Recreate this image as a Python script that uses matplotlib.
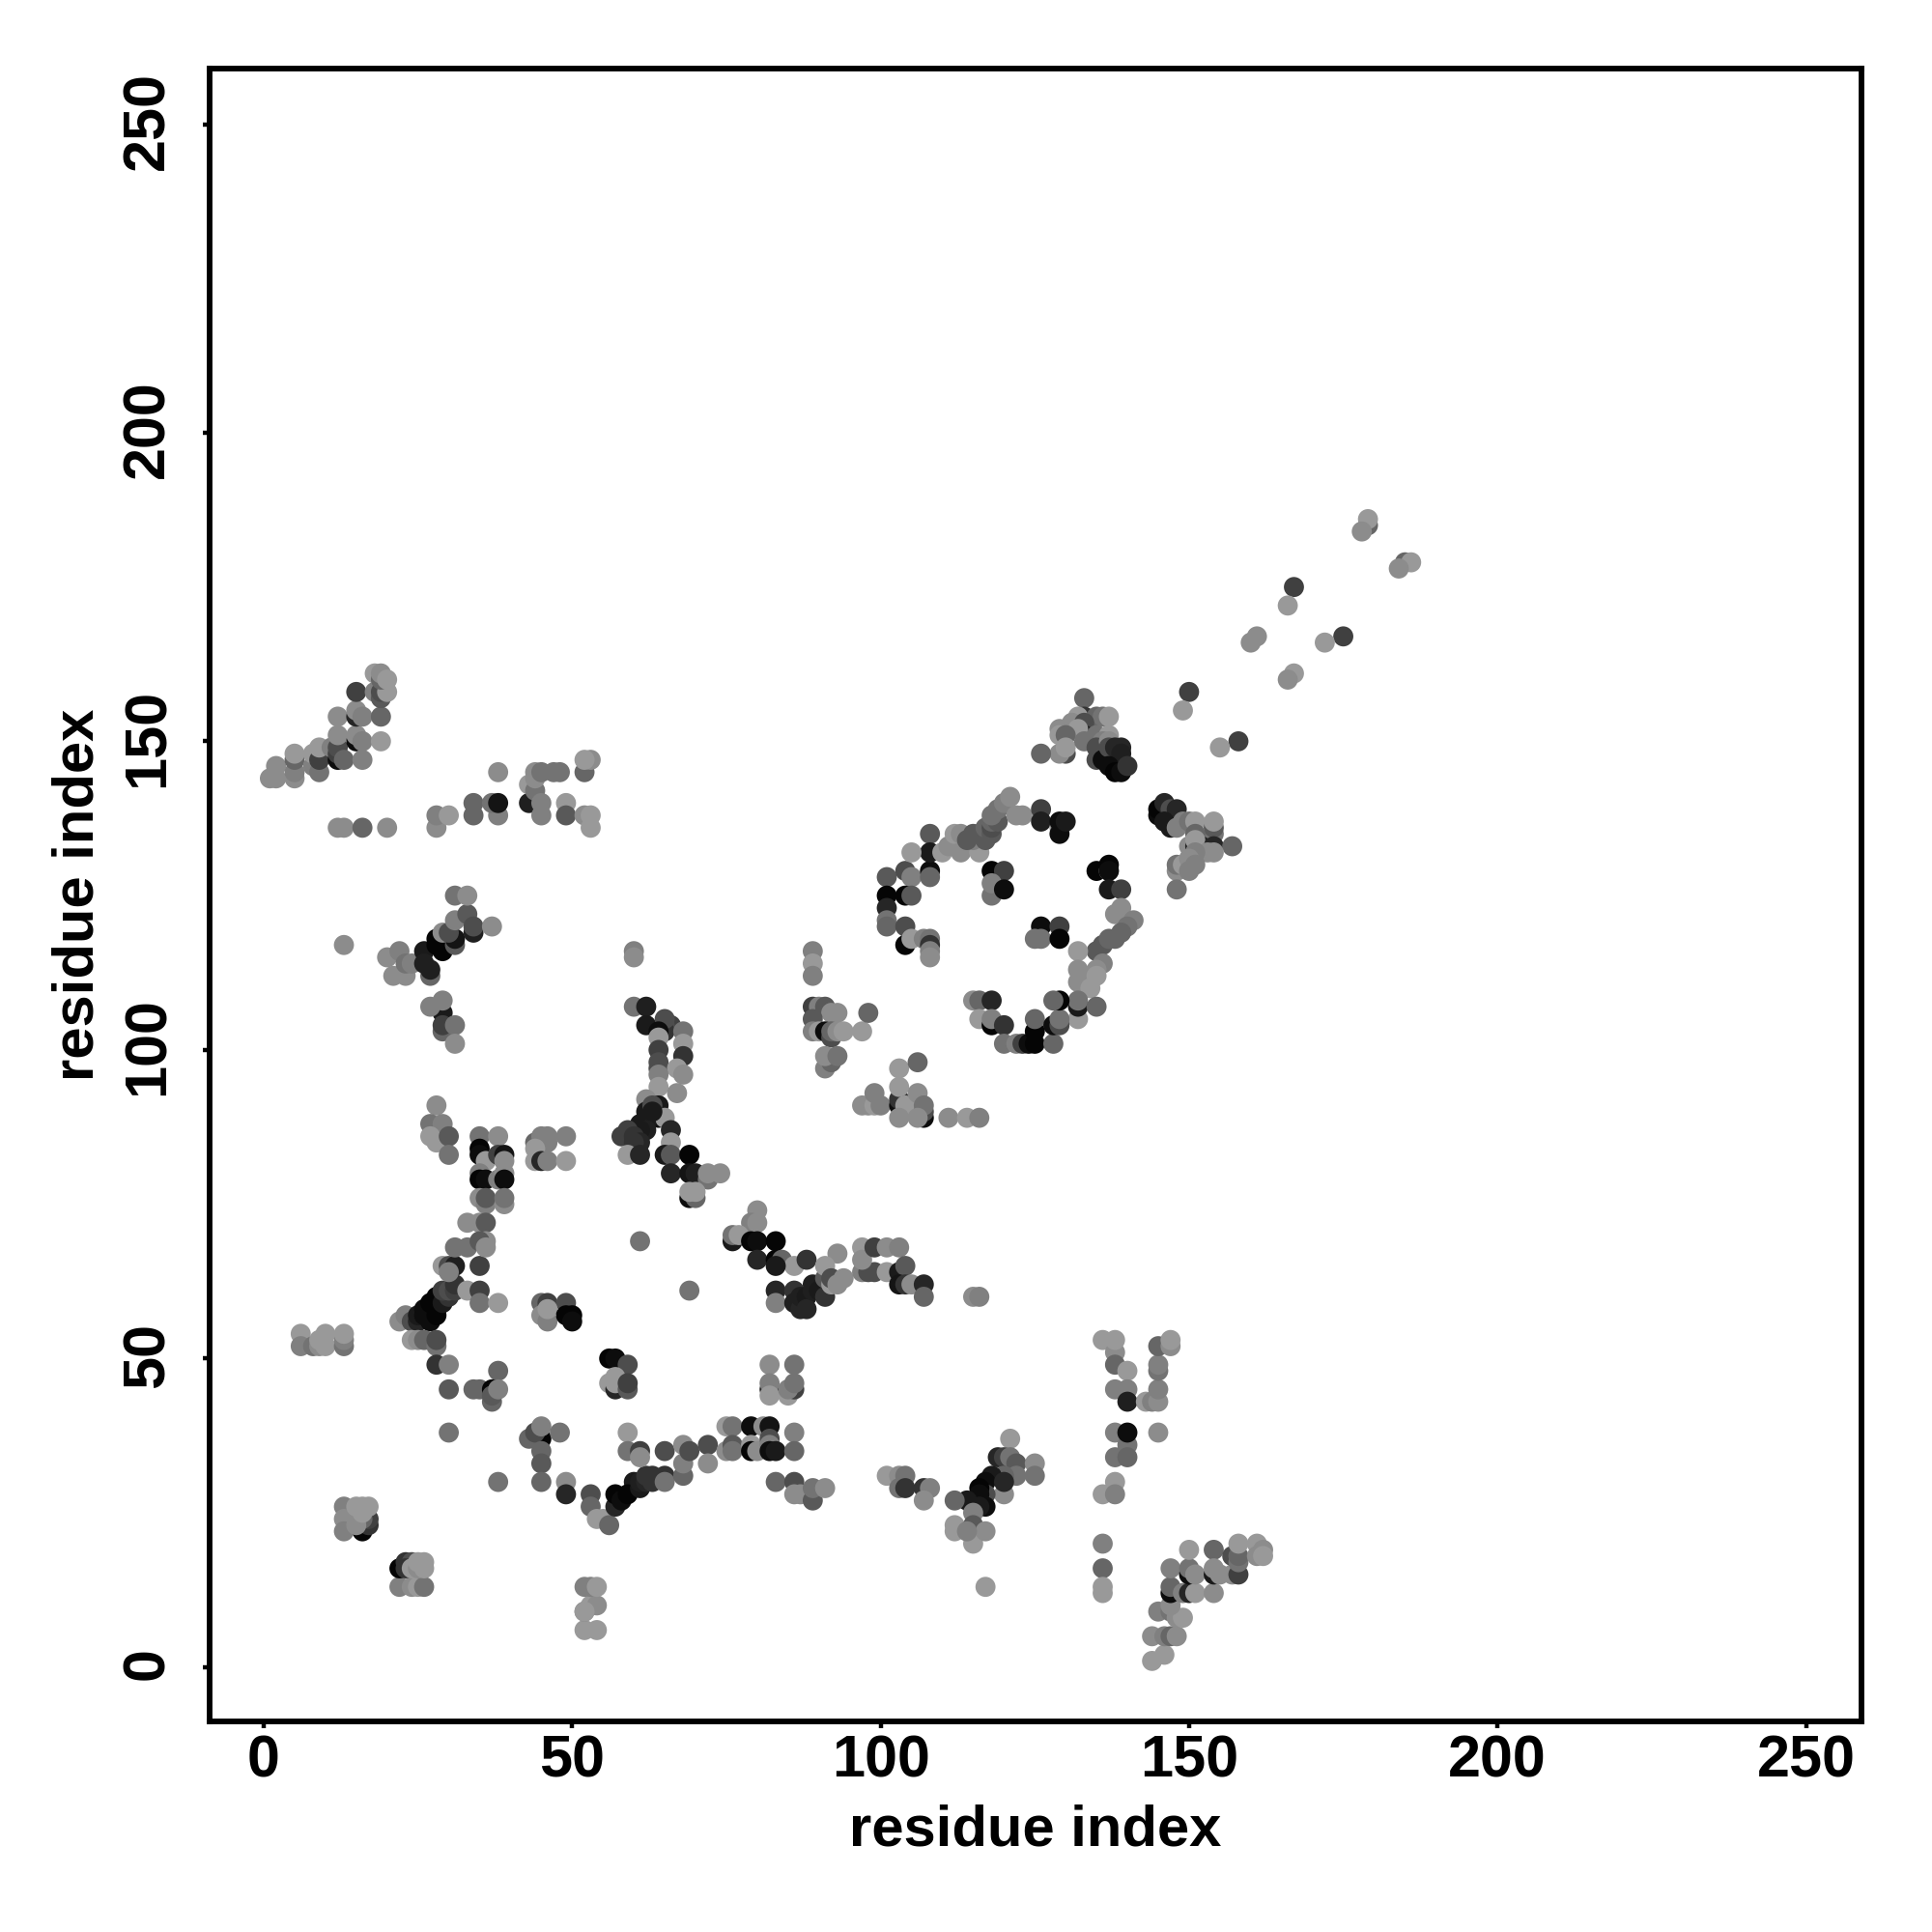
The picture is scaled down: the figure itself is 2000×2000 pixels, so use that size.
import matplotlib
matplotlib.use("Agg")
import matplotlib.pyplot as plt
from matplotlib.transforms import ScaledTranslation

plt.rcParams['font.family'] = ['Liberation Sans', 'DejaVu Sans']

tick_values = [0, 50, 100, 150, 200, 250]
axis_label = "residue index"

# each entry: residue i, residue j, grey level
low_a = [(52,6,.6),(54,6,.6),(52,9,.5),(53,10,.6),(54,10,.55),(52,9,.6),(52,13,.5),(53,13,.5),(54,13,.6)]
low_b = [(22,13,.5),(24,13,.55),(25,13,.6),(26,13,.45),(22,16,.02),(23,17,.2),(24,17,.3),(23,16,.2),(24,16,.6),(25,16,.55),(26,17,.6),(25,17,.6),(26,16,.6)]
low_c = [(13,26,.5),(13,24,.55),(13,22,.5),(16,22,.02),(17,23,.2),(17,24,.25),(16,24,.4),(15,23,.55),(16,26,.6),(15,26,.6),(17,26,.6),(16,25,.6)]
low_d = [(6,54,.6),(6,52,.5),(8,52,.45),(9,52,.55),(10,52,.6),(10,54,.6),(9,53,.6),(13,52,.45),(13,53,.5),(13,54,.6)]
chain_e = [(22,56,.55),(23,57,.5),(24,56,.3),(25,56,.15),(25,57,.1),(26,57,.05),(27,56,.05),(26,58,.05),(27,59,.02),(28,58,.02),(28,60,.02),(28,57,.02),(29,59,.1),(30,60,.2),(29,61,.25),(30,61,.3),(31,61,.25),(31,62,.2),(29,65,.6),(30,65,.3),(31,65,.12),(30,64,.5),(35,65,.25),(24,53,.6),(25,53,.55),(26,53,.4),(28,52,.45),(28,53,.3),(28,49,.2),(30,49,.5),(30,45,.35),(34,45,.4),(35,45,.4),(38,48,.4),(37,43,.4),(37,45,.02),(37,44,.35),(38,45,.5),(30,38,.45),(33,61,.6),(35,61,.25),(35,59,.45),(38,59,.6)]
low_f = [(45,37,.02),(43,37,.4),(44,38,.3),(45,39,.5),(48,38,.45),(45,35,.4),(45,33,.35),(45,30,.4),(38,30,.45),(49,30,.55),(49,28,.15)]
chain_g = [(53,28,.3),(53,26,.4),(54,24,.6),(55,24,.6),(56,23,.4),(57,26,.15),(57,28,.02),(58,27,.05),(60,30,.1),(59,28,.02),(61,29,.1),(61,30,.12),(62,30,.15),(62,31,.2),(63,30,.2),(63,31,.2),(65,31,.2),(65,30,.45),(68,31,.4),(68,33,.5),(65,35,.3),(59,38,.6),(59,35,.45),(61,35,.25),(61,34,.55),(68,36,.55),(69,35,.3),(72,36,.3),(72,33,.55),(75,39,.6),(76,39,.45),(75,35,.55),(76,36,.35),(76,35,.45),(79,39,.05),(79,36,.6),(79,35,.02),(80,35,.55),(81,39,.55),(82,39,.08),(82,37,.3),(82,36,.5),(82,35,.05),(83,35,.1),(86,38,.5),(86,35,.4),(83,30,.4),(86,30,.3),(87,28,.55),(86,28,.55),(89,27,.35),(89,29,.45),(91,29,.55)]
low_h = [(82,49,.55),(86,49,.45),(82,45,.15),(82,46,.5),(82,44,.6),(85,44,.6),(86,45,.25),(85,45,.5),(86,46,.45)]
low_i = [(56,50,.02),(57,50,.05),(59,49,.3),(56,46,.6),(57,45,.15),(57,46,.6),(57,47,.6),(59,45,.35),(59,46,.25)]
low_j = [(45,59,.4),(46,59,.25),(49,59,.3),(45,57,.55),(46,56,.5),(46,58,.6),(49,57,.02),(50,57,.02),(50,56,.05),(69,61,.45),(61,69,.45)]
col_k = [(28,91,.55),(27,88,.45),(29,88,.5),(27,86,.6),(28,85,.6),(30,86,.35),(30,83,.45),(35,86,.45),(38,86,.55),(35,84,.02),(35,83,.05),(36,82,.6),(38,83,.25),(39,83,.08),(39,82,.55),(35,80,.5),(35,79,.02),(36,79,.05),(38,79,.5),(39,80,.55),(39,79,.05),(35,76,.55),(36,75,.5),(36,76,.35),(39,75,.55),(39,76,.45),(33,72,.55),(35,72,.55),(36,72,.35),(31,68,.45),(33,68,.45),(36,69,.55),(35,69,.35),(36,68,.55),(44,85,.4),(45,86,.5),(46,85,.5),(46,86,.5),(44,84,.6),(49,86,.5),(44,82,.6),(45,82,.15),(46,82,.5),(49,82,.6)]
col_l = [(60,116,.5),(60,115,.55),(60,107,.45),(62,107,.12),(62,104,.1),(66,104,.25),(65,104,.3),(65,103,.2),(65,105,.3),(64,103,.05),(68,103,.45),(64,102,.6),(68,101,.6),(64,100,.25),(64,97,.3),(64,98,.3),(68,99,.2),(67,97,.6),(68,96,.55),(64,96,.5),(64,94,.6),(62,92,.55),(64,91,.1),(67,93,.55),(62,90,.1),(64,89,.05),(65,89,.6),(63,91,.3),(63,90,.1),(61,88,.1),(62,88,.1),(62,87,.12),(61,87,.1),(59,87,.25),(66,87,.15),(58,86,.25),(60,86,.2),(61,85,.15),(60,85,.2),(66,85,.6),(59,83,.6),(61,83,.15),(65,83,.1),(66,83,.35),(69,83,.02),(66,80,.15),(69,80,.08),(70,80,.12),(72,79,.45),(72,80,.55),(74,80,.55),(69,76,.05),(70,76,.4),(69,77,.6),(70,77,.6)]
mid_m = [(80,74,.55),(79,72,.5),(80,72,.55),(76,69,.1),(76,70,.45),(77,70,.6),(79,69,.02),(80,69,.05),(83,69,.02),(80,66,.15),(83,66,.02),(84,66,.4),(86,65,.6),(88,66,.2),(83,65,.1),(83,61,.15),(83,59,.5),(86,61,.2),(86,59,.12),(87,58,.15),(87,60,.12),(88,60,.1),(88,58,.15),(89,61,.12),(89,62,.12),(90,61,.1),(91,60,.2),(91,63,.35),(92,62,.6),(93,67,.55),(91,65,.6),(92,63,.3),(94,63,.55),(93,62,.55),(97,64,.5),(98,64,.3),(99,64,.3),(97,68,.6),(97,66,.55),(99,68,.25),(101,68,.55),(103,68,.5),(101,64,.6),(103,64,.1),(104,65,.35),(103,62,.08),(104,62,.2),(105,62,.55),(107,62,.15),(107,60,.4),(115,60,.55),(116,60,.5)]
upper_n = [(1,144,.55),(2,144,.55),(2,146,.55),(5,144,.55),(5,145,.5),(5,147,.4),(5,148,.6),(8,146,.5),(8,148,.6),(9,145,.45),(9,147,.25),(9,149,.6),(11,149,.5),(12,147,.05),(12,148,.25),(12,149,.3),(12,151,.55),(13,147,.4),(12,154,.55),(15,150,.05),(15,151,.55),(16,150,.5),(16,147,.5),(19,150,.6),(15,154,.15),(15,155,.55),(16,154,.5),(19,154,.4),(15,158,.25),(18,158,.5),(19,157,.35),(19,158,.3),(20,158,.6),(18,161,.6),(19,160,.4),(19,161,.55),(20,160,.6)]
upper_o = [(12,136,.55),(13,136,.55),(16,136,.4),(20,136,.55),(28,136,.55),(28,138,.5),(30,138,.6),(34,138,.4),(34,140,.4),(38,138,.5),(37,140,.45),(38,140,.08),(38,145,.55),(43,140,.12),(43,143,.6),(44,142,.45),(44,144,.55),(44,145,.55),(45,145,.45),(45,140,.5),(45,138,.5),(47,145,.45),(48,145,.45),(49,140,.6),(49,138,.35),(52,145,.4),(52,138,.55),(53,147,.55),(52,147,.6),(53,138,.6),(53,136,.6)]
chain_p = [(13,117,.55),(20,115,.55),(22,116,.5),(21,112,.55),(23,112,.55),(27,112,.4),(23,114,.45),(24,114,.5),(26,116,.1),(26,114,.12),(27,113,.12),(28,117,.02),(29,116,.02),(28,118,.02),(31,117,.35),(31,118,.08),(29,119,.55),(30,119,.3),(31,121,.5),(33,122,.35),(34,119,.12),(34,120,.3),(31,125,.45),(33,125,.55),(37,120,.55),(29,106,.1),(27,107,.5),(29,108,.5),(29,103,.4),(29,104,.25),(31,104,.45),(31,101,.55)]
mid_q = [(89,116,.5),(89,114,.6),(89,112,.5),(89,107,.25),(90,107,.5),(91,107,.35),(92,106,.55),(93,106,.55),(89,105,.35),(89,103,.5),(90,103,.6),(91,103,.05),(92,102,.3),(92,103,.4),(93,103,.55),(94,103,.6),(97,103,.6),(98,106,.4),(91,97,.5),(92,98,.4),(91,99,.55),(93,99,.45)]
mid_r = [(103,97,.6),(106,98,.4),(97,91,.55),(98,91,.55),(99,91,.6),(100,91,.5),(99,93,.5),(103,91,.05),(103,92,.2),(103,94,.6),(104,91,.6),(103,89,.55),(106,93,.55),(107,89,.05),(107,90,.3),(107,91,.45),(106,89,.55),(111,89,.55),(114,89,.6),(116,89,.5)]
ring_s = [(101,128,.35),(101,125,.02),(101,123,.15),(101,121,.45),(101,120,.4),(104,129,.3),(105,128,.5),(104,125,.02),(105,125,.35),(108,129,.05),(108,128,.4),(108,135,.35),(108,132,.1),(105,132,.6),(104,120,.3),(104,117,.02),(105,118,.6),(107,118,.5),(108,118,.45),(108,117,.2),(108,116,.5),(108,115,.55)]
ring_t = [(110,132,.6),(111,133,.55),(112,135,.6),(113,135,.55),(113,132,.55),(116,132,.6),(115,134,.5),(114,134,.35),(115,135,.35),(116,135,.35),(117,134,.35),(117,136,.4),(118,135,.35),(118,136,.3),(118,137,.4),(119,137,.35),(118,138,.45),(119,139,.45),(120,140,.5),(121,141,.55),(122,138,.55),(123,138,.55),(126,139,.25),(126,137,.12),(129,136,.6),(129,135,.05),(129,137,.05),(130,137,.1)]
ring_u = [(118,129,.02),(120,129,.25),(118,125,.45),(118,127,.5),(120,126,.05),(126,120,.05),(129,120,.25),(125,118,.45),(126,118,.45),(129,118,.02),(135,129,.02),(137,129,.55),(137,130,.02),(137,129,.05),(137,126,.1),(139,126,.25)]
ring_v = [(139,123,.55),(138,122,.55),(141,121,.5),(140,120,.45),(138,118,.4),(136,117,.35),(135,116,.35),(137,118,.4),(139,119,.4),(136,114,.5),(132,116,.6),(132,113,.55),(133,112,.55),(135,113,.55),(132,111,.55),(134,110,.6),(135,112,.6),(132,105,.6),(132,107,.1),(132,108,.45),(135,107,.4)]
ring_w = [(115,108,.55),(116,108,.4),(118,108,.15),(116,105,.6),(118,104,.02),(118,105,.5),(120,104,.2),(120,101,.45),(122,101,.5),(123,101,.25),(124,101,.05),(125,101,.02),(128,101,.4),(125,103,.02),(125,105,.4),(128,104,.05),(129,104,.3),(129,105,.45),(129,108,.02),(128,108,.4)]
tail_x = [(179,185,.4),(179,186,.6),(178,184,.55),(185,179,.4),(186,179,.6),(184,178,.55),(167,175,.25),(166,172,.6),(161,167,.55),(160,166,.55),(175,167,.25),(172,166,.6),(167,161,.6),(166,160,.55),(150,158,.25),(149,155,.6),(158,150,.25),(155,149,.6)]
top_y = [(133,157,.4),(133,154,.2),(132,154,.6),(135,154,.4),(136,154,.45),(137,154,.6),(131,153,.55),(133,153,.3),(133,151,.12),(132,152,.6),(129,152,.55),(129,151,.6),(130,151,.4),(130,148,.3),(129,148,.55),(130,149,.6),(126,148,.4),(133,150,.45),(135,151,.45),(137,151,.6),(136,150,.5),(135,149,.3),(137,150,.55),(135,147,.3),(136,147,.05),(137,149,.3),(138,149,.15),(139,149,.15),(139,148,.12),(137,146,.05),(138,145,.02),(139,145,.05),(140,146,.2)]
side_z = [(145,138,.05),(145,139,.02),(146,140,.15),(147,139,.3),(148,139,.15),(146,137,.1),(147,136,.1),(148,136,.5),(149,137,.5),(150,137,.45),(151,137,.6),(154,135,.45),(154,136,.35),(154,137,.6),(151,135,.4),(150,133,.55),(151,133,.15),(152,133,.12),(151,134,.6),(154,133,.15),(157,133,.4),(154,132,.55),(153,132,.55),(151,132,.5),(148,129,.55),(148,130,.45),(149,130,.6),(150,131,.55),(150,129,.5),(151,130,.5),(148,126,.45)]
low_aa = [(121,37,.6),(119,34,.15),(120,34,.25),(121,34,.45),(122,33,.35),(125,33,.55),(125,31,.45),(122,31,.45),(120,31,.4),(118,31,.1),(117,30,.05),(120,28,.55),(120,30,.15),(117,28,.3),(116,29,.02),(116,28,.05),(115,26,.05),(117,26,.05),(116,26,.1),(114,27,.1),(112,27,.4),(115,25,.5),(112,23,.6),(112,22,.6),(115,23,.35),(115,20,.6),(117,22,.55),(114,22,.5),(117,13,.6)]
low_ab = [(101,31,.6),(103,31,.55),(104,31,.45),(103,29,.45),(104,29,.2),(107,29,.2),(108,29,.5),(107,27,.55)]
low_ac = [(136,53,.6),(138,51,.55),(138,53,.6),(138,49,.4),(140,48,.6),(138,45,.5),(140,45,.5),(140,43,.12),(143,43,.6),(144,43,.5),(145,43,.55),(145,45,.5),(145,48,.45),(145,49,.5),(145,52,.4),(147,52,.55),(147,53,.6),(138,38,.5),(140,36,.45),(140,38,.05),(145,38,.55),(138,34,.45),(140,34,.4),(138,30,.6),(136,28,.6),(138,28,.5)]
low_ad = [(136,20,.5),(136,16,.4),(136,13,.6),(136,12,.6),(144,1,.6),(144,5,.55),(146,2,.6),(146,5,.5),(147,5,.4),(148,5,.55),(145,9,.5),(147,9,.45),(148,8,.55),(149,8,.6),(147,10,.55),(147,12,.05),(147,13,.4),(149,12,.5),(150,12,.15),(151,12,.6),(147,16,.5),(150,15,.05),(150,16,.45),(151,15,.55),(150,19,.6),(154,12,.55),(154,19,.4),(154,15,.1),(154,16,.55),(155,15,.55),(157,15,.55),(158,15,.25),(157,18,.3),(158,17,.45),(158,18,.4),(158,20,.6),(161,20,.6),(162,19,.55),(161,18,.55),(162,18,.6)]

clusters = [low_a, low_b, low_c, low_d, chain_e, low_f, chain_g, low_h, low_i, low_j,
            col_k, col_l, mid_m, upper_n, upper_o, chain_p, mid_q, mid_r, ring_s, ring_t,
            ring_u, ring_v, ring_w, tail_x, top_y, side_z, low_aa, low_ab, low_ac, low_ad]

fig = plt.figure(figsize=(10, 10), dpi=200)
ax = fig.add_axes([217/2000, 1-1782/2000, (1927-217)/2000, (1782-71)/2000])

for cluster in clusters:
    xs = [p[0] for p in cluster]
    ys = [p[1] for p in cluster]
    cs = [str(p[2]) for p in cluster]
    ax.scatter(xs, ys, c=cs, s=56, linewidths=0, zorder=2)

ax.set_xlim(-8.77, 259)
ax.set_ylim(-8.8, 259)
ax.set_xticks(tick_values)
ax.set_yticks(tick_values)
ax.set_xticklabels([str(v) for v in tick_values], fontsize=22, fontweight='bold')
ax.set_yticklabels([str(v) for v in tick_values], fontsize=22, fontweight='bold',
                   rotation=90, va='center')
ax.tick_params(axis='x', length=2.5, width=1.6, pad=2.2)
ax.tick_params(axis='y', length=2.5, width=1.6, pad=10)
up = ScaledTranslation(0, 1.2/72, fig.dpi_scale_trans)
for lab in ax.get_yticklabels():
    lab.set_transform(lab.get_transform() + up)
ax.set_xlabel(axis_label, fontsize=21.5, fontweight='bold', labelpad=5.5)
ax.set_ylabel(axis_label, fontsize=21.5, fontweight='bold', labelpad=6)
for s in ax.spines.values():
    s.set_linewidth(2.1)

fig.savefig("out.png", dpi=200, facecolor='white')
